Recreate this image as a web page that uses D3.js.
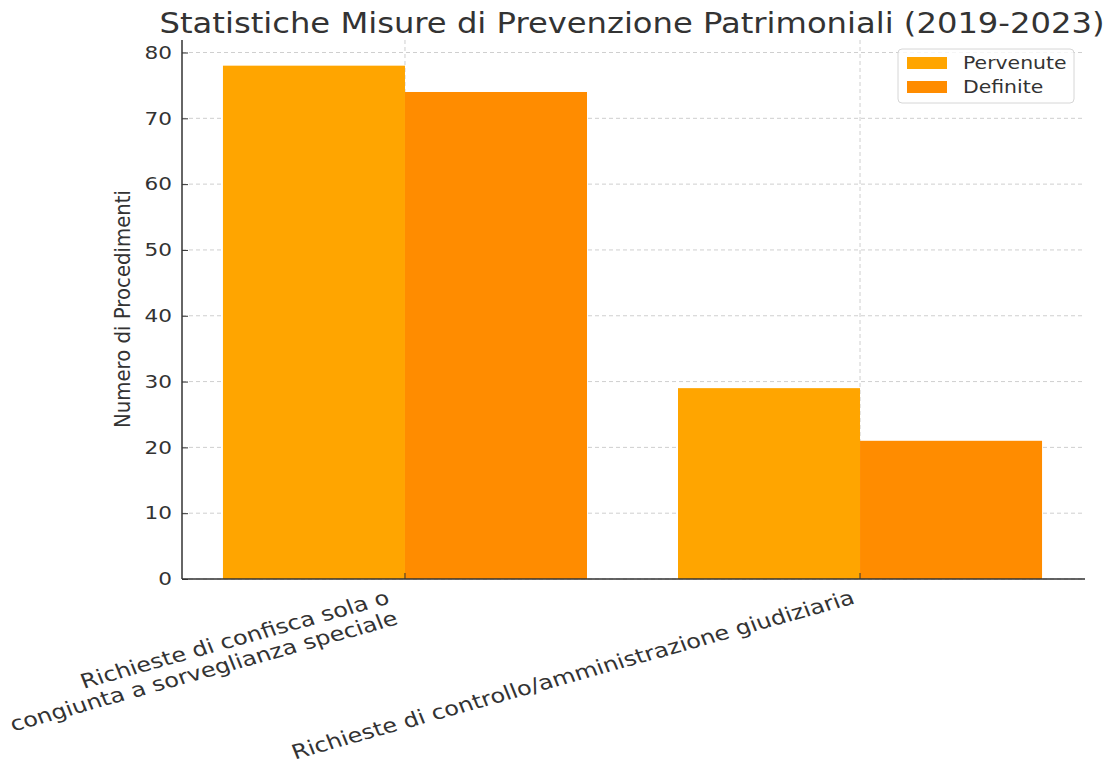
<!DOCTYPE html>
<html>
<head>
<meta charset="utf-8">
<script src="https://cdn.jsdelivr.net/npm/d3@7"></script>
<style>
  body { margin: 0; background: #fff; }
  svg text { font-family: 'DejaVu Sans', sans-serif; fill: #333; }
</style>
</head>
<body>
<div id="chart"></div>
<script>
var categories = [
    ['Richieste di confisca sola o', 'congiunta a sorveglianza speciale'],
    ['Richieste di controllo/amministrazione giudiziaria']
];
var series = ['Pervenute', 'Definite'];
var pervenute = [78, 29];
var definite = [74, 21];
var yTicks = [0, 10, 20, 30, 40, 50, 60, 70, 80];

var W = 1112, H = 767;
var mLeft = 182, mRight = 1085, mTop = 40, mBottom = 579;
var stretchX = 1.2; // the picture is a bit wider than tall

var svg = d3.select('#chart').append('svg')
    .attr('width', W).attr('height', H);

var x = d3.scaleLinear().domain([-0.49, 1.49]).range([mLeft, 1083]);
var y = d3.scaleLinear().domain([0, 81.9]).range([mBottom, mTop]);
var xSub = d3.scaleBand().domain(series).range([-0.4, 0.4]);
var color = d3.scaleOrdinal().domain(series).range(['#FFA500', '#FF8C00']);

function widen(sel) {
    sel.each(function() {
        var w = this.getComputedTextLength();
        d3.select(this).attr('textLength', w * stretchX).attr('lengthAdjust', 'spacingAndGlyphs');
    });
}

// grid
svg.append('g').selectAll('line')
    .data(yTicks).enter().append('line')
    .attr('x1', mLeft).attr('x2', mRight)
    .attr('y1', d => y(d)).attr('y2', d => y(d))
    .attr('stroke', '#cfcfcf').attr('stroke-dasharray', '4,3');
svg.append('g').selectAll('line')
    .data(categories).enter().append('line')
    .attr('x1', (d, i) => x(i)).attr('x2', (d, i) => x(i))
    .attr('y1', mTop).attr('y2', mBottom)
    .attr('stroke', '#cfcfcf').attr('stroke-dasharray', '4,3');

// bars
var values = { 'Pervenute': pervenute, 'Definite': definite };
series.forEach(function(s) {
    svg.append('g').selectAll('rect')
        .data(values[s]).enter().append('rect')
        .attr('x', (d, i) => x(i + xSub(s)))
        .attr('width', (d, i) => x(i + xSub(s) + xSub.bandwidth()) - x(i + xSub(s)))
        .attr('y', d => y(d))
        .attr('height', d => y(0) - y(d))
        .attr('fill', color(s));
});

// y axis, ticks point inward
var yAxis = d3.axisLeft(y).tickValues(yTicks).tickSize(-6).tickPadding(10);
var gy = svg.append('g').attr('transform', 'translate(' + mLeft + ',0)').call(yAxis);
gy.select('.domain').remove();
gy.selectAll('.tick line').attr('stroke', '#333');
gy.selectAll('.tick text').style('font-size', '18px').attr('fill', '#333').call(widen);

// x ticks (inward)
svg.append('g').selectAll('line')
    .data(categories).enter().append('line')
    .attr('x1', (d, i) => x(i)).attr('x2', (d, i) => x(i))
    .attr('y1', mBottom).attr('y2', mBottom - 6)
    .attr('stroke', '#333');

// spines
svg.append('line').attr('x1', mLeft).attr('x2', mLeft).attr('y1', mTop).attr('y2', mBottom)
    .attr('stroke', '#333').attr('stroke-width', 1.5);
svg.append('line').attr('x1', mLeft).attr('x2', mRight).attr('y1', mBottom).attr('y2', mBottom)
    .attr('stroke', '#333').attr('stroke-width', 1.5);

// x labels, right aligned and rotated
categories.forEach(function(lines, i) {
    var ox = x(i) - 4 - (lines.length - 1) * 10;
    var t = svg.append('text')
        .attr('transform', 'translate(' + ox + ',' + (mBottom + 24) + ') scale(' + stretchX + ',1) rotate(-18.5)')
        .attr('text-anchor', 'end')
        .style('font-size', '20px');
    lines.forEach(function(l, j) {
        t.append('tspan').attr('x', 0).attr('dy', j === 0 ? 0 : 22).text(l);
    });
});

// y label
svg.append('text')
    .attr('transform', 'translate(130,' + ((190 + 428) / 2) + ') scale(' + stretchX + ',1) rotate(-90)')
    .attr('text-anchor', 'middle')
    .attr('textLength', 238).attr('lengthAdjust', 'spacingAndGlyphs')
    .style('font-size', '18px')
    .text('Numero di Procedimenti');

// title
svg.append('text')
    .attr('x', 632).attr('y', 33)
    .attr('text-anchor', 'middle')
    .attr('textLength', 945).attr('lengthAdjust', 'spacingAndGlyphs')
    .style('font-size', '28px')
    .text('Statistiche Misure di Prevenzione Patrimoniali (2019-2023)');

// legend
var lg = svg.append('g').attr('transform', 'translate(898,49)');
lg.append('rect').attr('width', 176).attr('height', 54).attr('rx', 4)
    .attr('fill', '#fff').attr('fill-opacity', 0.8).attr('stroke', '#d6d6d6');
series.forEach(function(s, i) {
    lg.append('rect').attr('x', 9).attr('y', 8 + i * 24).attr('width', 40).attr('height', 12)
        .attr('fill', color(s));
    lg.append('text').attr('x', 65).attr('y', 20 + i * 24)
        .style('font-size', '17px').text(s).call(widen);
});
</script>
</body>
</html>
